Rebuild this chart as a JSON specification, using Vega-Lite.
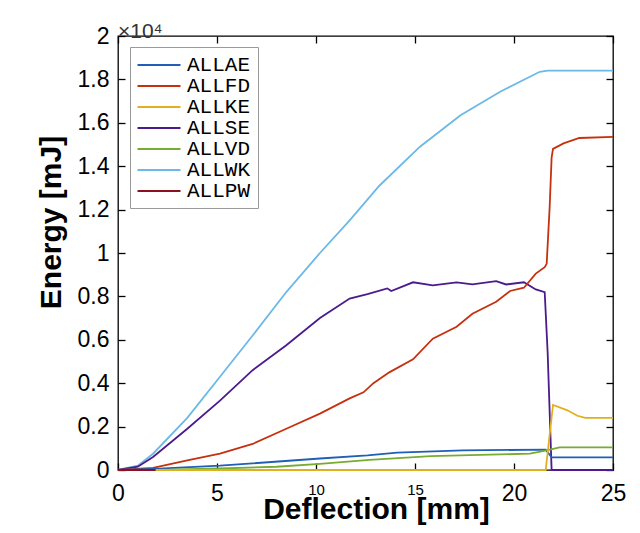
{
  "$schema": "https://vega.github.io/schema/vega-lite/v6.json",
  "width": 495,
  "height": 434,
  "autosize": "none",
  "padding": {"left": 118, "top": 36, "right": 27, "bottom": 63},
  "background": "white",
  "config": {
    "font": "Liberation Sans",
    "view": {"stroke": "#000", "strokeWidth": 1.3},
    "axis": {
      "grid": false,
      "domain": false,
      "ticks": false,
      "tickSize": 0,
      "tickColor": "#000",
      "tickWidth": 1.3,
      "labelFont": "Liberation Sans",
      "labelFontSize": 23,
      "labelColor": "#000",
      "labelFlush": false,
      "titleFont": "Liberation Sans",
      "titleFontWeight": "bold",
      "titleColor": "#000"
    }
  },
  "title": {
    "text": "×10⁴",
    "anchor": "start",
    "frame": "group",
    "fontSize": 21,
    "fontWeight": "normal",
    "baseline": "alphabetic",
    "color": "#333",
    "offset": 1,
    "dy": 35
  },
  "data": {
    "values": [
      {"d": 0, "s": "ALLWK", "e": 0},
      {"d": 1.0, "s": "ALLWK", "e": 200},
      {"d": 1.77, "s": "ALLWK", "e": 750},
      {"d": 3.5, "s": "ALLWK", "e": 2400},
      {"d": 5.15, "s": "ALLWK", "e": 4300},
      {"d": 6.8, "s": "ALLWK", "e": 6200},
      {"d": 8.5, "s": "ALLWK", "e": 8200},
      {"d": 10.2, "s": "ALLWK", "e": 10000},
      {"d": 11.7, "s": "ALLWK", "e": 11500},
      {"d": 13.2, "s": "ALLWK", "e": 13100},
      {"d": 15.25, "s": "ALLWK", "e": 14900},
      {"d": 17.3, "s": "ALLWK", "e": 16350},
      {"d": 19.3, "s": "ALLWK", "e": 17430},
      {"d": 21.3, "s": "ALLWK", "e": 18350},
      {"d": 21.7, "s": "ALLWK", "e": 18400},
      {"d": 25, "s": "ALLWK", "e": 18400},

      {"d": 0, "s": "ALLSE", "e": 0},
      {"d": 1.0, "s": "ALLSE", "e": 150},
      {"d": 1.77, "s": "ALLSE", "e": 600},
      {"d": 3.5, "s": "ALLSE", "e": 1900},
      {"d": 5.15, "s": "ALLSE", "e": 3200},
      {"d": 6.8, "s": "ALLSE", "e": 4600},
      {"d": 8.5, "s": "ALLSE", "e": 5750},
      {"d": 10.2, "s": "ALLSE", "e": 7000},
      {"d": 11.7, "s": "ALLSE", "e": 7900},
      {"d": 12.6, "s": "ALLSE", "e": 8100},
      {"d": 13.6, "s": "ALLSE", "e": 8370},
      {"d": 13.8, "s": "ALLSE", "e": 8250},
      {"d": 14.9, "s": "ALLSE", "e": 8650},
      {"d": 15.9, "s": "ALLSE", "e": 8510},
      {"d": 17.1, "s": "ALLSE", "e": 8650},
      {"d": 17.9, "s": "ALLSE", "e": 8550},
      {"d": 19.1, "s": "ALLSE", "e": 8700},
      {"d": 19.6, "s": "ALLSE", "e": 8550},
      {"d": 20.5, "s": "ALLSE", "e": 8650},
      {"d": 21.1, "s": "ALLSE", "e": 8320},
      {"d": 21.55, "s": "ALLSE", "e": 8200},
      {"d": 21.7, "s": "ALLSE", "e": 5400},
      {"d": 21.9, "s": "ALLSE", "e": 0},
      {"d": 25, "s": "ALLSE", "e": 0},

      {"d": 0, "s": "ALLFD", "e": 0},
      {"d": 1.77, "s": "ALLFD", "e": 100},
      {"d": 3.5, "s": "ALLFD", "e": 440},
      {"d": 5.15, "s": "ALLFD", "e": 760},
      {"d": 6.8, "s": "ALLFD", "e": 1200},
      {"d": 8.5, "s": "ALLFD", "e": 1900},
      {"d": 10.2, "s": "ALLFD", "e": 2600},
      {"d": 11.7, "s": "ALLFD", "e": 3300},
      {"d": 12.4, "s": "ALLFD", "e": 3580},
      {"d": 12.9, "s": "ALLFD", "e": 4000},
      {"d": 13.7, "s": "ALLFD", "e": 4500},
      {"d": 14.9, "s": "ALLFD", "e": 5100},
      {"d": 15.9, "s": "ALLFD", "e": 6050},
      {"d": 17.1, "s": "ALLFD", "e": 6600},
      {"d": 17.9, "s": "ALLFD", "e": 7200},
      {"d": 19.1, "s": "ALLFD", "e": 7750},
      {"d": 19.8, "s": "ALLFD", "e": 8250},
      {"d": 20.5, "s": "ALLFD", "e": 8400},
      {"d": 21.1, "s": "ALLFD", "e": 9050},
      {"d": 21.55, "s": "ALLFD", "e": 9350},
      {"d": 21.65, "s": "ALLFD", "e": 9500},
      {"d": 21.8, "s": "ALLFD", "e": 12100},
      {"d": 21.9, "s": "ALLFD", "e": 14400},
      {"d": 21.97, "s": "ALLFD", "e": 14800},
      {"d": 22.5, "s": "ALLFD", "e": 15050},
      {"d": 23.3, "s": "ALLFD", "e": 15300},
      {"d": 25, "s": "ALLFD", "e": 15350},

      {"d": 0, "s": "ALLAE", "e": 0},
      {"d": 1.8, "s": "ALLAE", "e": 50},
      {"d": 5.15, "s": "ALLAE", "e": 200},
      {"d": 10.2, "s": "ALLAE", "e": 530},
      {"d": 12.6, "s": "ALLAE", "e": 670},
      {"d": 14.1, "s": "ALLAE", "e": 800},
      {"d": 17.4, "s": "ALLAE", "e": 900},
      {"d": 21.6, "s": "ALLAE", "e": 940},
      {"d": 21.9, "s": "ALLAE", "e": 580},
      {"d": 25, "s": "ALLAE", "e": 580},

      {"d": 0, "s": "ALLVD", "e": 0},
      {"d": 2.0, "s": "ALLVD", "e": 10},
      {"d": 5.15, "s": "ALLVD", "e": 70},
      {"d": 8.0, "s": "ALLVD", "e": 150},
      {"d": 10.2, "s": "ALLVD", "e": 280},
      {"d": 12.7, "s": "ALLVD", "e": 470},
      {"d": 15.8, "s": "ALLVD", "e": 640},
      {"d": 20.8, "s": "ALLVD", "e": 750},
      {"d": 21.65, "s": "ALLVD", "e": 900},
      {"d": 22.3, "s": "ALLVD", "e": 1040},
      {"d": 25, "s": "ALLVD", "e": 1040},

      {"d": 0, "s": "ALLKE", "e": 0},
      {"d": 21.6, "s": "ALLKE", "e": 0},
      {"d": 21.97, "s": "ALLKE", "e": 3000},
      {"d": 22.7, "s": "ALLKE", "e": 2750},
      {"d": 23.2, "s": "ALLKE", "e": 2500},
      {"d": 23.6, "s": "ALLKE", "e": 2400},
      {"d": 25, "s": "ALLKE", "e": 2400},

      {"d": 0, "s": "ALLPW", "e": 0},
      {"d": 1.9, "s": "ALLPW", "e": 0}
    ]
  },
  "layer": [
    {
      "mark": {"type": "line", "strokeWidth": 1.8},
      "encoding": {
        "x": {
          "field": "d",
          "type": "quantitative",
          "scale": {"domain": [0, 25], "nice": false},
          "axis": {
            "values": [0, 5, 10, 15, 20, 25],
            "labelFontSize": {"condition": {"test": "datum.value == 10 || datum.value == 15", "value": 15}, "value": 23},
            "labelPadding": 12,
            "title": "Deflection [mm]",
            "titleFontSize": 30,
            "titleBaseline": "alphabetic",
            "titleX": 258,
            "titleY": 48
          }
        },
        "y": {
          "field": "e",
          "type": "quantitative",
          "scale": {"domain": [0, 20000], "nice": false},
          "axis": {
            "values": [0, 2000, 4000, 6000, 8000, 10000, 12000, 14000, 16000, 18000, 20000],
            "labelExpr": "format(datum.value / 10000, '~g')",
            "labelPadding": 9,
            "title": "Energy [mJ]",
            "titleFontSize": 30,
            "titleBaseline": "alphabetic",
            "titleX": -58,
            "titleY": 186
          }
        },
        "color": {
          "field": "s",
          "type": "nominal",
          "scale": {
            "domain": ["ALLAE", "ALLFD", "ALLKE", "ALLSE", "ALLVD", "ALLWK", "ALLPW"],
            "range": ["#1f5fb5", "#c5310f", "#e0b020", "#4b1a8c", "#77ac30", "#6cb8e6", "#8b1020"]
          },
          "legend": {
            "orient": "none",
            "legendX": 12,
            "legendY": 11,
            "title": null,
            "symbolType": "M-2.15,0H2.15",
            "symbolSize": 400,
            "symbolStrokeWidth": 2,
            "symbolOffset": 11,
            "labelFont": "Liberation Mono",
            "labelFontSize": 21,
            "labelColor": "#000",
            "labelOffset": 17,
            "padding": 7,
            "rowPadding": 0,
            "strokeColor": "#999",
            "fillColor": "white"
          }
        }
      }
    },
    {
      "mark": {"type": "point", "opacity": 0},
      "encoding": {
        "x": {
          "field": "d",
          "type": "quantitative",
          "axis": {"orient": "top", "offset": -434, "ticks": true, "tickSize": 7, "labels": false, "title": null, "values": [0, 5, 10, 15, 20, 25]}
        },
        "y": {
          "field": "e",
          "type": "quantitative",
          "axis": {"orient": "right", "offset": -495, "ticks": true, "tickSize": 7, "labels": false, "title": null, "values": [0, 2000, 4000, 6000, 8000, 10000, 12000, 14000, 16000, 18000, 20000]}
        }
      }
    },
    {
      "mark": {"type": "point", "opacity": 0},
      "encoding": {
        "x": {
          "field": "d",
          "type": "quantitative",
          "axis": {"orient": "bottom", "offset": -434, "ticks": true, "tickSize": 7, "labels": false, "title": null, "values": [0, 5, 10, 15, 20, 25]}
        },
        "y": {
          "field": "e",
          "type": "quantitative",
          "axis": {"orient": "left", "offset": -495, "ticks": true, "tickSize": 7, "labels": false, "title": null, "values": [0, 2000, 4000, 6000, 8000, 10000, 12000, 14000, 16000, 18000, 20000]}
        }
      }
    }
  ],
  "resolve": {"axis": {"x": "independent", "y": "independent"}}
}
